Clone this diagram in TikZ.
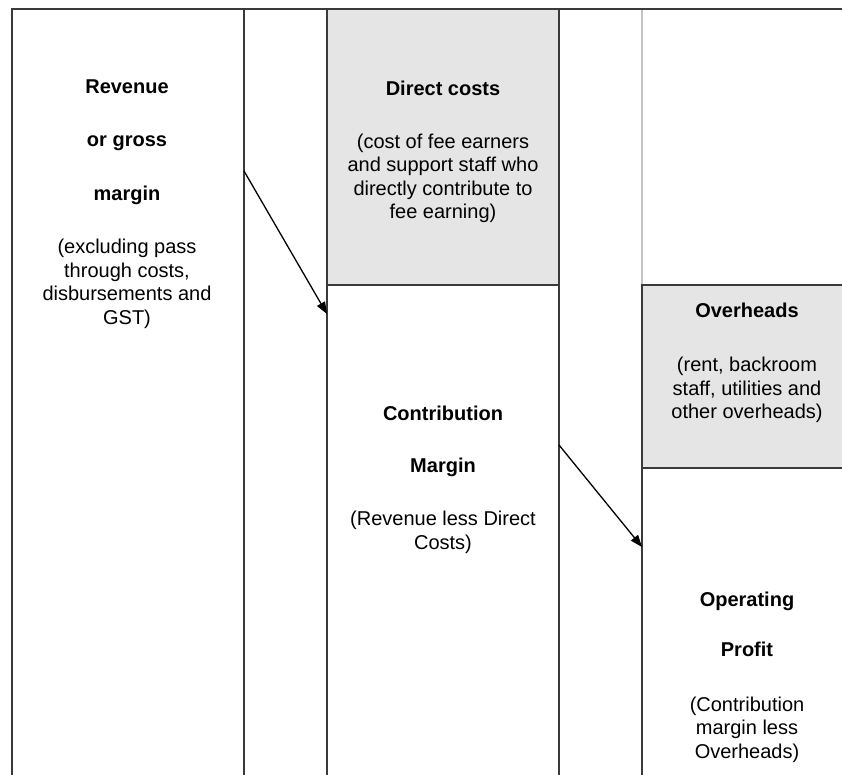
\documentclass[tikz,border=0pt]{standalone}
\usepackage{fontspec}
\setmainfont{Liberation Sans}
\usetikzlibrary{arrows.meta}
\definecolor{rulegray}{HTML}{3A3A3A}
\definecolor{lightrule}{HTML}{C4C4C4}
\definecolor{boxgray}{HTML}{E5E5E5}

\begin{document}
\begin{tikzpicture}[x=1pt,y=-1pt,
  col line/.style={draw=rulegray,line width=1.6pt},
  block text/.style={align=center,inner sep=0pt,
    font=\fontsize{20}{23.5}\selectfont},
  flow/.style={-{Triangle[length=12pt,width=9pt]},line width=1.3pt}]

  \useasboundingbox (0,0) rectangle (842,775);

  % shaded cost areas
  \fill[boxgray] (327,9) rectangle (559,285);
  \fill[boxgray] (642,285) rectangle (842,468);

  % column rules
  \draw[draw=lightrule,line width=1.2pt] (642,9) -- (642,285);
  \draw[col line] (12,775) -- (12,9) -- (842,9);
  \draw[col line] (244,9) -- (244,775);
  \draw[col line] (327,9) -- (327,775);
  \draw[col line] (559,9) -- (559,775);
  \draw[col line] (327,285) -- (559,285);
  \draw[col line] (642,775) -- (642,285) -- (842,285);
  \draw[col line] (642,468) -- (842,468);

  \node[block text] (revenue) at (127,204) {\textbf{Revenue}\\[30pt]
    \textbf{or gross}\\[30pt]\textbf{margin}\\[30pt]
    (excluding pass\\through costs,\\disbursements and\\GST)};
  \node[block text] (direct) at (443,152) {\textbf{Direct costs}\\[29.5pt]
    (cost of fee earners\\and support staff who\\directly contribute to\\fee earning)};
  \node[block text] (overheads) at (747,363) {\textbf{Overheads}\\[31pt]
    (rent, backroom\\staff, utilities and\\other overheads)};
  \node[block text] (contrib) at (443,480) {\textbf{Contribution}\\[28pt]
    \textbf{Margin}\\[30pt](Revenue less Direct\\Costs)};
  \node[block text] (operating) at (747,677) {\textbf{Operating}\\[27pt]
    \textbf{Profit}\\[31pt](Contribution\\margin less\\Overheads)};

  \coordinate (rev out) at (244,171);
  \coordinate (contrib in) at (327,314);
  \coordinate (contrib out) at (559,445);
  \coordinate (profit in) at (642,547);

  \path[flow]
    (rev out) edge (contrib in)
    (contrib out) edge (profit in);
\end{tikzpicture}
\end{document}
